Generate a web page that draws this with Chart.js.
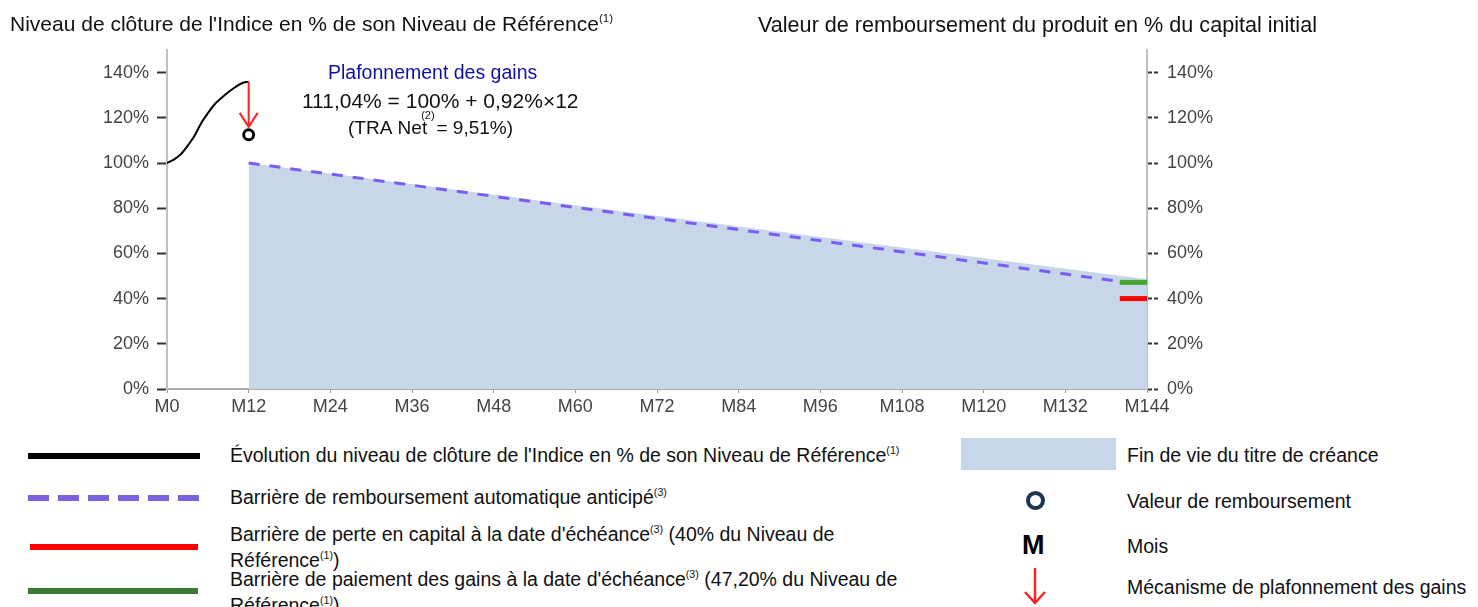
<!DOCTYPE html>
<html>
<head>
<meta charset="utf-8">
<script src="https://cdn.jsdelivr.net/npm/chart.js@4/dist/chart.umd.min.js"></script>
<style>
  body { margin: 0; background: #fff; font-family: 'Liberation Sans', Arial, sans-serif; }
  #wrap { position: relative; width: 1478px; height: 607px; overflow: hidden; }
  #box { position: absolute; left: 0; top: 0; width: 1478px; height: 430px; }
  .title { position: absolute; top: 12px; font-size: 21px; color: #111; white-space: nowrap; }
  sup { font-size: 55%; vertical-align: 0; position: relative; top: -0.75em; }
  .lt { position: absolute; left: 230px; font-size: 19.5px; line-height: 23px; color: #111; }
  .rt { position: absolute; left: 1127px; font-size: 19.5px; color: #111; white-space: nowrap; }
  .sw { position: absolute; }
</style>
</head>
<body>
<div id="wrap">
  <div id="box"><canvas id="chart"></canvas></div>
  <div class="title" style="left:10px">Niveau de clôture de l'Indice en % de son Niveau de Référence<sup>(1)</sup></div>
  <div class="title" style="left:758px;font-size:21.6px">Valeur de remboursement du produit en % du capital initial</div>

  <div class="sw" style="left:28px;top:453px;width:172px;height:6px;background:#000"></div>
  <div class="lt" style="top:444px;white-space:nowrap">Évolution du niveau de clôture de l'Indice en % de son Niveau de Référence<sup>(1)</sup></div>

  <div class="sw" style="left:28px;top:495px;width:172px;height:6px;background:repeating-linear-gradient(90deg,#7b61e0 0 21px,transparent 21px 30px)"></div>
  <div class="lt" style="top:486px;white-space:nowrap">Barrière de remboursement automatique anticipé<sup>(3)</sup></div>

  <div class="sw" style="left:30px;top:544px;width:168px;height:6px;background:#ff0000"></div>
  <div class="lt" style="top:523px;width:680px">Barrière de perte en capital à la date d'échéance<sup>(3)</sup> (40% du Niveau de Référence<sup>(1)</sup>)</div>

  <div class="sw" style="left:28px;top:588px;width:170px;height:6px;background:#3b7a35"></div>
  <div class="lt" style="top:568px;width:700px">Barrière de paiement des gains à la date d'échéance<sup>(3)</sup> (47,20% du Niveau de Référence<sup>(1)</sup>)</div>

  <div class="sw" style="left:961px;top:438px;width:155px;height:32px;background:#c8d6ea"></div>
  <div class="rt" style="top:444px">Fin de vie du titre de créance</div>

  <div class="sw" style="left:1026px;top:491px;width:11px;height:11px;border:4px solid #1f3550;border-radius:50%"></div>
  <div class="rt" style="top:490px">Valeur de remboursement</div>

  <div class="sw" style="left:1022px;top:530px;font-size:27px;font-weight:bold;color:#000">M</div>
  <div class="rt" style="top:535px">Mois</div>

  <svg class="sw" style="left:1020px;top:566px" width="30" height="40">
    <line x1="15" y1="2" x2="15" y2="37" stroke="#ff2020" stroke-width="2.5"/>
    <polyline points="5,26 15,37 25,26" fill="none" stroke="#ff2020" stroke-width="2.5"/>
  </svg>
  <div class="rt" style="top:576px">Mécanisme de plafonnement des gains</div>
</div>

<script>
// index closing level, first year (months 0..12)
var months = [0, 1, 2, 3, 4, 5, 6, 7, 8, 9, 10, 11, 12];
var indexLevel = [100, 101.5, 103.8, 107.5, 111.8, 117.5, 122, 126, 128.8, 131.3, 133.5, 135.3, 136];

// autocall barrier (dashed) and end of life area
var barrierMonths = [12, 140];
var barrierLevels = [100, 47.6];
var lifeMonths = [12, 144];
var lifeLevels = [100, 48.6];

// barriers at maturity
var maturityMonths = [140, 144];
var capitalBarrier = [40, 40];
var gainBarrier = [47.2, 47.2];

// cap mechanism
var capMonth = 12;
var capFrom = 136;
var capTo = 116;
var redemptionMonth = [12];
var redemptionValue = [112.5];

var xTicks = [0, 12, 24, 36, 48, 60, 72, 84, 96, 108, 120, 132, 144];
var yTicks = [0, 20, 40, 60, 80, 100, 120, 140];

function pts(xs, ys) {
    return xs.map(function (x, i) { return { x: x, y: ys[i] }; });
}

var capPlugin = {
    id: 'capPlugin',
    afterDatasetsDraw: function (chart) {
        var ctx = chart.ctx;
        var x = chart.scales.x, y = chart.scales.y;
        var px = x.getPixelForValue(capMonth);
        var y1 = y.getPixelForValue(capFrom);
        var y2 = y.getPixelForValue(capTo);
        ctx.save();
        ctx.strokeStyle = '#ff2020';
        ctx.lineWidth = 2;
        ctx.beginPath();
        ctx.moveTo(px, y1);
        ctx.lineTo(px, y2);
        ctx.moveTo(px - 9, y2 - 14);
        ctx.lineTo(px, y2);
        ctx.lineTo(px + 9, y2 - 14);
        ctx.stroke();

        // annotation text
        ctx.textBaseline = 'middle';
        ctx.textAlign = 'left';
        ctx.font = '19.5px "Liberation Sans", Arial, sans-serif';
        ctx.fillStyle = '#1010a8';
        ctx.fillText('Plafonnement des gains', 328, 74);
        ctx.fillStyle = '#111';
        ctx.font = '21px "Liberation Sans", Arial, sans-serif';
        ctx.fillText('111,04% = 100% + 0,92%\u00d712', 302, 102);
        ctx.font = '19px "Liberation Sans", Arial, sans-serif';
        var a = '(TRA Net';
        ctx.fillText(a, 348, 129);
        var w = ctx.measureText(a).width;
        ctx.fillText(' = 9,51%)', 348 + w + 4, 129);
        ctx.font = '11px "Liberation Sans", Arial, sans-serif';
        ctx.fillText('(2)', 348 + w - 6, 116);
        ctx.restore();
    }
};

var tickFont = { family: '"Liberation Sans", Arial, sans-serif', size: 18 };

new Chart(document.getElementById('chart'), {
    type: 'line',
    data: {
        datasets: [
            {
                data: pts(months, indexLevel),
                borderColor: '#000',
                borderWidth: 2,
                pointRadius: 0,
                cubicInterpolationMode: 'monotone',
                order: 1
            },
            {
                type: 'scatter',
                data: pts(redemptionMonth, redemptionValue),
                pointRadius: 5,
                borderWidth: 3,
                borderColor: '#000',
                backgroundColor: '#fff',
                order: 0
            },
            {
                data: pts(barrierMonths, barrierLevels),
                borderColor: '#7b5cf0',
                borderWidth: 3,
                borderDash: [11, 10],
                pointRadius: 0,
                order: 2
            },
            {
                data: pts(maturityMonths, gainBarrier),
                borderColor: '#46a32e',
                borderWidth: 5,
                borderCapStyle: 'butt',
                pointRadius: 0,
                order: 2
            },
            {
                data: pts(maturityMonths, capitalBarrier),
                borderColor: '#ff0000',
                borderWidth: 5,
                borderCapStyle: 'butt',
                pointRadius: 0,
                order: 2
            },
            {
                data: pts(lifeMonths, lifeLevels),
                borderWidth: 0,
                pointRadius: 0,
                backgroundColor: '#c8d6ea',
                fill: 'origin',
                order: 10
            }
        ]
    },
    options: {
        responsive: true,
        maintainAspectRatio: false,
        animation: false,
        layout: { padding: { top: 50 } },
        plugins: {
            legend: { display: false },
            tooltip: { enabled: false }
        },
        scales: {
            x: {
                type: 'linear',
                min: 0,
                max: 144,
                afterBuildTicks: function (axis) {
                    axis.ticks = xTicks.map(function (v) { return { value: v }; });
                },
                afterFit: function (scale) { scale.height = 41; },
                ticks: {
                    callback: function (v) { return 'M' + v; },
                    font: tickFont,
                    color: '#444',
                    padding: 3,
                    maxRotation: 0,
                    autoSkip: false
                },
                grid: { drawOnChartArea: false, tickLength: 4, tickColor: '#999', tickWidth: 1 },
                border: { color: '#aaa', width: 2 }
            },
            y: {
                position: 'left',
                min: 0,
                max: 150,
                afterBuildTicks: function (axis) {
                    axis.ticks = yTicks.map(function (v) { return { value: v }; });
                },
                afterFit: function (scale) { scale.width = 167; },
                ticks: {
                    callback: function (v) { return v + '%'; },
                    font: tickFont,
                    color: '#444',
                    padding: 8
                },
                grid: { drawOnChartArea: false, tickLength: 10, tickColor: '#333', tickWidth: 2 },
                border: { color: '#c0c0c0', width: 2, dash: [2, 2] }
            },
            y2: {
                position: 'right',
                display: true,
                min: 0,
                max: 150,
                afterBuildTicks: function (axis) {
                    axis.ticks = yTicks.map(function (v) { return { value: v }; });
                },
                afterFit: function (scale) { scale.width = 331; },
                ticks: {
                    callback: function (v) { return v + '%'; },
                    font: tickFont,
                    color: '#444',
                    padding: 8
                },
                grid: { drawOnChartArea: false, tickLength: 12, tickColor: '#333', tickWidth: 2, tickBorderDash: [4, 2] },
                border: { color: '#c0c0c0', width: 2, dash: [2, 2] }
            }
        }
    },
    plugins: [capPlugin]
});
</script>
</body>
</html>
